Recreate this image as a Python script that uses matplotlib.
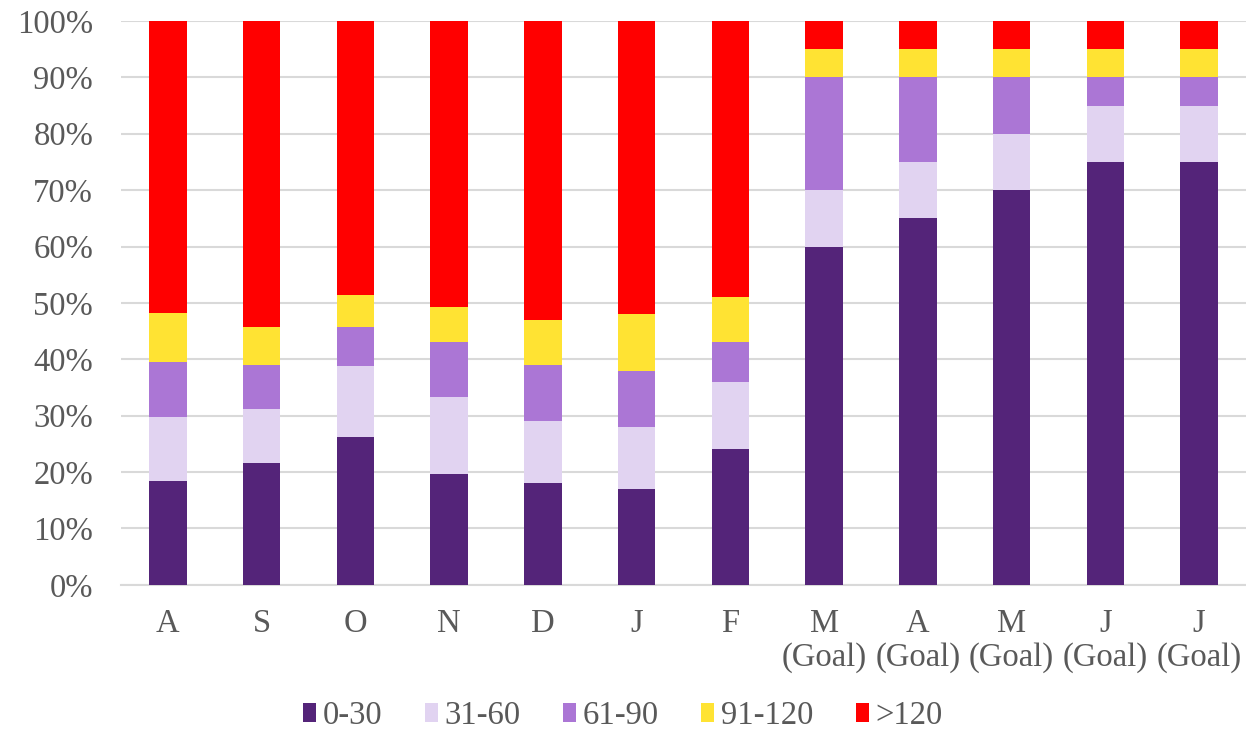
import numpy as np
import matplotlib.pyplot as plt
from matplotlib.patches import Patch

# Months (first seven actual, last five goals)
months = ["A", "S", "O", "N", "D", "J", "F",
          "M\n(Goal)", "A\n(Goal)", "M\n(Goal)", "J\n(Goal)", "J\n(Goal)"]

# Share of items per age bucket, in percent
d0_30 = [18.4, 21.6, 26.3, 19.6, 18.0, 17.0, 24.0, 60, 65, 70, 75, 75]
d31_60 = [11.4, 9.6, 12.5, 13.7, 11.0, 11.0, 12.0, 10, 10, 10, 10, 10]
d61_90 = [9.8, 7.7, 6.9, 9.8, 10.0, 10.0, 7.0, 20, 15, 10, 5, 5]
d91_120 = [8.6, 6.9, 5.7, 6.2, 8.0, 10.0, 8.0, 5, 5, 5, 5, 5]
d120p = [51.8, 54.2, 48.6, 50.7, 53.0, 52.0, 49.0, 5, 5, 5, 5, 5]

labels = ["0-30", "31-60", "61-90", "91-120", ">120"]
colors = ["#542479", "#E1D3F1", "#AB76D5", "#FFE333", "#FF0000"]

series = [d0_30, d31_60, d61_90, d91_120, d120p]

text_color = "#595959"
plt.rcParams['font.family'] = ['Liberation Serif', 'DejaVu Serif']

fig = plt.figure(figsize=(12.46, 7.34), dpi=100)
ax = fig.add_axes([0.0971, 0.2033, 0.9029, 0.7681])

x = np.arange(len(months))
bottom = np.zeros(len(months))
for vals, lab, col in zip(series, labels, colors):
    vals = np.array(vals) / 100.0
    ax.bar(x, vals, width=0.4, bottom=bottom, color=col, label=lab, zorder=3)
    bottom += vals

ax.set_xlim(-0.5, len(months) - 0.5)
ax.set_ylim(0, 1)
ax.set_yticks(np.arange(0, 1.01, 0.1))
ax.set_yticklabels([f"{int(round(v * 100))}%" for v in np.arange(0, 1.01, 0.1)])
ax.yaxis.grid(True, color="#D9D9D9", linewidth=1.5, zorder=0)
ax.set_xticks(x)
ax.set_xticklabels(months, linespacing=1.15)

for s in ["top", "right", "left"]:
    ax.spines[s].set_visible(False)
ax.spines["bottom"].set_color("#D9D9D9")
ax.spines["bottom"].set_linewidth(1.5)

ax.tick_params(axis="both", length=0, labelsize=23.5, colors=text_color)
ax.tick_params(axis="x", pad=17)
ax.tick_params(axis="y", pad=20)

handles = [Patch(facecolor=c, label=l) for c, l in zip(colors, labels)]
fig.legend(handles=handles, loc="center", bbox_to_anchor=(0.5, 0.025),
           ncol=5, frameon=False, fontsize=23.5, labelcolor=text_color,
           handlelength=0.4, handleheight=0.52, handletextpad=0.2,
           columnspacing=1.3, borderpad=0.0)

fig.savefig("out.png", dpi=100)
